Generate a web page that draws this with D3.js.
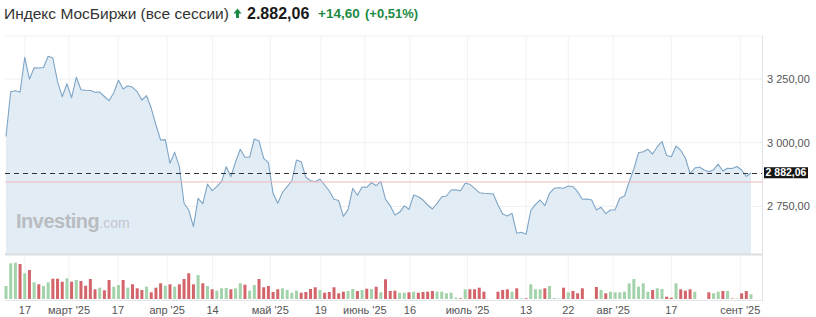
<!DOCTYPE html>
<html><head><meta charset="utf-8">
<script src="https://cdn.jsdelivr.net/npm/d3@7"></script>
<style>
html,body{margin:0;padding:0;background:#fff;}
svg{display:block;font-family:"Liberation Sans",Arial,sans-serif;}
</style></head><body>
<svg id="c" width="816" height="317"></svg>
<script>
// ---- data ----
const titleText = "Индекс МосБиржи (все сессии)";
const lastPrice = 2882.06;
const changeAbs = 14.60;
const changePct = 0.51;
const refLevel = 2846;

const closes = [
3024.3,3200.2,3204.1,3198.2,3335.2,3249.2,3294.3,3293.0,3295.0,3339.1,
3332.4,3239.4,3180.5,3231.2,3176.6,3256.7,3208.0,3205.6,3204.9,3197.8,
3198.5,3181.3,3164.8,3196.2,3244.9,3210.8,3223.7,3217.4,3200.2,3167.6,
3184.5,3135.0,3069.5,3010.6,3012.0,2919.2,2962.3,2905.8,2762.2,2735.9,
2670.3,2781.8,2761.0,2837.9,2811.6,2827.3,2846.9,2905.8,2866.6,2925.4,
2974.1,2942.7,2943.0,3014.5,3006.7,2938.8,2921.5,2801.4,2762.2,2804.6,
2827.3,2849.7,2932.1,2925.4,2864.2,2850.9,2846.9,2857.5,2834.0,2810.4,
2778.3,2773.2,2711.1,2737.1,2821.0,2793.6,2826.1,2824.9,2843.8,2831.2,
2848.5,2777.9,2752.8,2716.3,2726.8,2752.0,2738.6,2794.7,2788.1,2775.1,
2755.5,2739.8,2762.0,2788.0,2790.8,2814.4,2815.0,2811.6,2840.7,2836.7,
2821.0,2803.8,2801.4,2800.6,2798.7,2755.5,2720.2,2712.3,2722.9,2644.4,
2648.4,2640.5,2733.9,2758.2,2775.1,2752.8,2801.4,2821.0,2823.4,2821.0,
2830.1,2827.3,2807.7,2777.9,2779.0,2775.1,2735.9,2746.5,2721.4,2735.9,
2737.0,2781.8,2790.8,2846.9,2896.8,2960.8,2964.7,2974.1,2955.7,2984.3,
3004.7,2949.8,2945.1,2987.0,2970.2,2940.0,2878.3,2900.7,2904.6,2892.9,
2886.2,2894.0,2915.6,2888.9,2899.5,2899.0,2906.6,2892.9,2867.46,2882.06
];

const volumes = [
13,35.7,36.3,35,25.7,29,16.7,14.7,13,16.7,
20.3,20.3,17.3,20.7,17.3,19,18,13.3,20,9.7,
11.3,8.7,19,12.3,14,19,11.3,14.7,10.7,9,
12.3,6.7,11.3,15.7,13.3,14.7,12.3,14.7,20,25.7,
14.7,24,15.7,13,9.7,8.3,10.7,11,9.7,10.7,
15.7,14.3,8.3,14,20,11.7,13,7,9.7,10.7,
9,6.3,8.3,6.3,7,10,11.7,9,6.3,7,
11.7,5.7,7.3,8,10,8,9,10.3,10,12.3,
6.7,19.7,8,8.3,6.3,6.3,6.7,7.3,6.3,7,
7.3,8,7.3,7.3,5.7,6.3,1.3,0.7,9.7,9.7,
9.7,11.3,7.3,0,0,7.3,9,9.7,7.3,10.7,
0.7,0.7,14.7,9.7,9.7,10.7,13,1,0.5,11.3,
6.7,8,5.7,10.7,0,0,12,9,5.7,7.3,
6.7,6.7,7.3,15.7,20,12.3,15.7,7.3,9,10.7,
10,2.3,1.3,15.7,9.7,8.3,9.7,7.3,0,0,
6.7,5.7,7.3,8,8,0.5,0.5,5.7,8,4.7
];

// x-axis ticks: position on the data index axis + label
const tickPos = [4.05,13.45,23.9,34.4,44.1,56.4,67.2,76.6,86.2,98.5,111,120,129.6,142,156.7];
const tickLabels = ["17","март '25","17","апр '25","14","май '25","19","июнь '25","16","июль '25","13","22","авг '25","17","сент '25"];
const yTicks = [2750, 3000, 3250];

// ---- layout ----
const plotL = 5, plotR = 762, plotT = 36, plotB = 254;
const volB = 299, volT = 262.7;
const svg = d3.select("#c");

const x = d3.scaleLinear().domain([0, closes.length - 1]).range([6, 751]);
const y = d3.scaleLinear().domain([2750, 3250]).range([206.4, 79.0]);
const yv = d3.scaleLinear().domain([0, d3.max(volumes)]).range([volB, volT]);

const ruLoc = d3.formatLocale({decimal: ",", thousands: "\u00a0", grouping: [3], currency: ["", ""]});
const fmtAxis = ruLoc.format(",.2f");
const dotLoc = d3.formatLocale({decimal: ",", thousands: ".", grouping: [3], currency: ["", ""]});
const fmtTitle = dotLoc.format(",.2f");

// ---- grid ----
const grid = svg.append("g");
grid.selectAll("line.v").data(tickPos).join("line")
  .attr("x1", d => x(d)).attr("x2", d => x(d))
  .attr("y1", plotT).attr("y2", volB + 1)
  .attr("stroke", "#f1f2f4").attr("stroke-width", 1);
grid.selectAll("line.h").data(yTicks).join("line")
  .attr("x1", plotL).attr("x2", plotR)
  .attr("y1", d => y(d)).attr("y2", d => y(d))
  .attr("stroke", "#eef0f2").attr("stroke-width", 1);
grid.append("line").attr("x1", plotL).attr("x2", plotR).attr("y1", plotT).attr("y2", plotT)
  .attr("stroke", "#eef0f2");

// ---- area + line ----
const area = d3.area().x((d, i) => x(i)).y0(plotB).y1(d => y(d));
const line = d3.line().x((d, i) => x(i)).y(d => y(d));
svg.append("path").datum(closes).attr("d", area).attr("fill", "#e2ecf5");
svg.append("path").datum(closes).attr("d", line)
  .attr("fill", "none").attr("stroke", "#7ea5c6").attr("stroke-width", 1.1)
  .attr("stroke-linejoin", "round");

// bottom separator of price pane
svg.append("line").attr("x1", plotL).attr("x2", plotR).attr("y1", plotB + 0.5).attr("y2", plotB + 0.5)
  .attr("stroke", "#dadde1").attr("stroke-width", 2);

// watermark
const wm = svg.append("text").attr("x", 16).attr("y", 228);
wm.append("tspan").text("Investing").attr("font-size", 20).attr("font-weight", "bold")
  .attr("fill", "#b9bcc0").attr("letter-spacing", -0.5);
wm.append("tspan").text(".com").attr("font-size", 14).attr("fill", "#c3c6ca");

// reference level (pink) and current price (dashed)
svg.append("line").attr("x1", plotL).attr("x2", plotR)
  .attr("y1", y(refLevel)).attr("y2", y(refLevel))
  .attr("stroke", "#f0b9bb").attr("stroke-width", 1);
svg.append("line").attr("x1", plotL).attr("x2", plotR)
  .attr("y1", Math.round(y(lastPrice)) + 0.5).attr("y2", Math.round(y(lastPrice)) + 0.5)
  .attr("stroke", "#333").attr("stroke-width", 1).attr("stroke-dasharray", "5,4");

// ---- volume bars ----
svg.append("g").selectAll("rect").data(volumes).join("rect")
  .attr("x", (d, i) => x(i) - 1.5).attr("width", 3)
  .attr("y", d => yv(d)).attr("height", d => volB - yv(d))
  .attr("fill", (d, i) => (i === 0 || closes[i] >= closes[i - 1]) ? "#a3d3ab" : "#d2646a");

// bottom axis line & right border
svg.append("line").attr("x1", plotL).attr("x2", plotR).attr("y1", volB + 1.5).attr("y2", volB + 1.5)
  .attr("stroke", "#e3e5e8").attr("stroke-width", 1);
svg.append("line").attr("x1", plotR + 0.5).attr("x2", plotR + 0.5).attr("y1", plotT).attr("y2", volB + 2)
  .attr("stroke", "#dfe1e4").attr("stroke-width", 1);

// ---- y axis labels ----
svg.append("g").selectAll("text").data(yTicks).join("text")
  .attr("x", 767).attr("y", d => y(d)).attr("dy", "0.35em")
  .attr("font-size", 11).attr("fill", "#555").text(d => fmtAxis(d));

// current price tag
svg.append("rect").attr("x", 764).attr("y", y(lastPrice) - 5.5).attr("width", 44).attr("height", 11)
  .attr("fill", "#161616");
svg.append("text").attr("x", 786).attr("y", y(lastPrice)).attr("dy", "0.35em").attr("text-anchor", "middle")
  .attr("font-size", 10.5).attr("font-weight", "bold").attr("fill", "#fff").text(fmtAxis(lastPrice));

// ---- x axis labels ----
svg.append("g").selectAll("text").data(tickPos).join("text")
  .attr("x", d => x(d)).attr("y", 314).attr("text-anchor", "middle")
  .attr("font-size", 11).attr("fill", "#555").text((d, i) => tickLabels[i]);

// ---- title ----
svg.append("text").attr("x", 4).attr("y", 18.5).attr("font-size", 15.5).attr("fill", "#333").text(titleText);
svg.append("path").attr("d", "M237.5,8.5 L241.5,13.5 L239,13.5 L239,18 L236,18 L236,13.5 L233.5,13.5 Z")
  .attr("fill", "#1c8a43");
svg.append("text").attr("x", 247).attr("y", 18.5).attr("font-size", 16).attr("font-weight", "bold")
  .attr("fill", "#1a1a1a").text(fmtTitle(lastPrice));
svg.append("text").attr("x", 318).attr("y", 18).attr("font-size", 13.5).attr("font-weight", "bold")
  .attr("fill", "#1c8a43").text("+" + ruLoc.format(".2f")(changeAbs));
svg.append("text").attr("x", 365).attr("y", 18).attr("font-size", 13).attr("font-weight", "bold")
  .attr("fill", "#1c8a43").text("(+" + ruLoc.format(".2f")(changePct) + "%)");
</script>
</body></html>
